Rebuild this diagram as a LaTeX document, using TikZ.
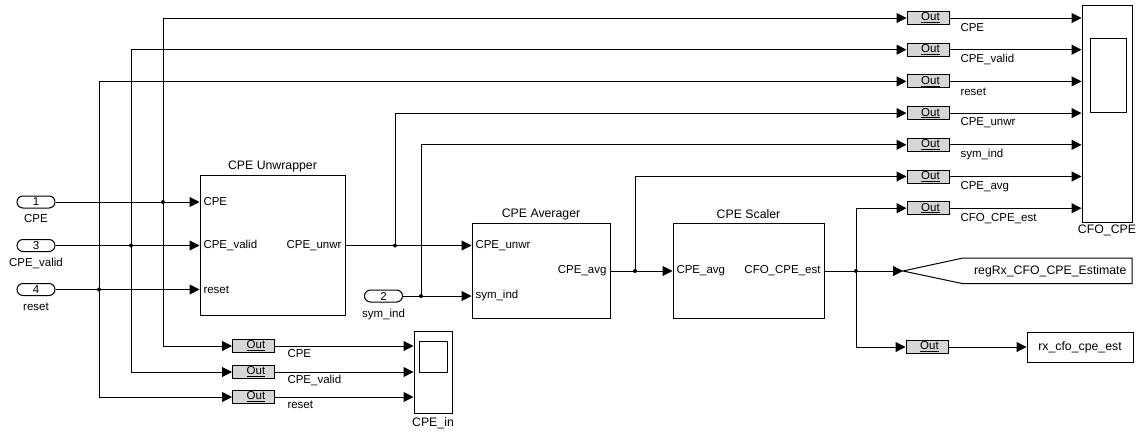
\documentclass[tikz,border=0pt]{standalone}
\usepackage{fontspec}
\setmainfont{Liberation Sans}
\usepackage{xcolor}
\usetikzlibrary{arrows.meta, positioning, shapes.geometric}
\definecolor{outgray}{HTML}{D6D6D6}
\newcommand{\outtxt}{\hspace*{5pt}\underline{Out}}

\begin{document}
\begin{tikzpicture}[
  x=1pt, y=-1pt, line width=1pt,
  block/.style={rectangle, draw, fill=white, inner sep=0pt},
  inport/.style={rectangle, rounded corners=6pt, draw, minimum width=38pt, minimum height=12pt,
                 inner sep=0pt, font=\fontsize{11.5}{13}\selectfont},
  outblk/.style={rectangle, draw, fill=outgray, minimum width=42pt, minimum height=13pt,
                 inner sep=0pt, font=\fontsize{11.5}{13}\selectfont},
  port/.style={inner sep=0pt, font=\fontsize{11.5}{13}\selectfont},
  title/.style={inner sep=0pt, font=\fontsize{12.3}{14}\selectfont},
  sig/.style={inner sep=0pt, anchor=west, font=\fontsize{11.5}{13}\selectfont},
  arrow/.style={-{Triangle[length=10pt, width=10pt]}},
  dot/.style={circle, fill, inner sep=0pt, minimum size=4pt}
]
  \useasboundingbox (0,0) rectangle (1147,434);

  % inports
  \node[inport] (in1) at (36,202) {1};
  \node[port] (in1lbl) at (36,219) {CPE};
  \node[inport] (in3) at (36,245.5) {3};
  \node[port] (in3lbl) at (36,263) {CPE\_valid};
  \node[inport] (in4) at (36,289.5) {4};
  \node[port] (in4lbl) at (36,307) {reset};
  \node[inport] (in2) at (383.5,296) {2};
  \node[port] (in2lbl) at (383.5,315) {sym\_ind};

  % subsystems
  \node[block, minimum width=145pt, minimum height=140pt] (unwr) at (272.5,245) {};
  \node[title] (unwrttl) at (272.5,166) {CPE Unwrapper};
  \node[port, anchor=west] (unwrp1) at (203,202) {CPE};
  \node[port, anchor=west] (unwrp2) at (203,245.5) {CPE\_valid};
  \node[port, anchor=west] (unwrp3) at (203,289.5) {reset};
  \node[port, anchor=east] (unwrpo) at (342,245.5) {CPE\_unwr};

  \node[block, minimum width=138pt, minimum height=95pt] (avg) at (541,270.5) {};
  \node[title] (avgttl) at (541,214) {CPE Averager};
  \node[port, anchor=west] (avgp1) at (475,245.5) {CPE\_unwr};
  \node[port, anchor=west] (avgp2) at (475,296) {sym\_ind};
  \node[port, anchor=east] (avgpo) at (607,271) {CPE\_avg};

  \node[block, minimum width=151pt, minimum height=95pt] (scaler) at (748.5,270.5) {};
  \node[title] (scalerttl) at (748.5,214) {CPE Scaler};
  \node[port, anchor=west] (scalerp1) at (676,271) {CPE\_avg};
  \node[port, anchor=east] (scalerpo) at (821,271) {CFO\_CPE\_est};

  % scopes
  \node[block, minimum width=50pt, minimum height=217pt] (cfocpe) at (1107,113.5) {};
  \node[block, minimum width=36pt, minimum height=74pt] (cfocpescr) at (1108,75) {};
  \node[title] (cfocpelbl) at (1107,230) {CFO\_CPE};
  \node[block, minimum width=38pt, minimum height=82pt] (cpein) at (433,372) {};
  \node[block, minimum width=28pt, minimum height=31pt] (cpeinscr) at (433,356.5) {};
  \node[title] (cpeinlbl) at (433,423) {CPE\_in};

  % goto tag and outport
  \coordinate (gototip) at (903,271);
  \draw (gototip) -- (963,258) -- (1132,258) -- (1132,283.5) -- (962,283.5) -- cycle;
  \node[title, anchor=east] (goto) at (1127,271) {regRx\_CFO\_CPE\_Estimate};
  \node[block, minimum width=106pt, minimum height=30pt] (rx) at (1080,347) {};
  \node[title] (rxlbl) at (1080,347) {rx\_cfo\_cpe\_est};

  % out blocks to CFO_CPE
  \node[outblk] (outcpe)   at (928,18)    {\outtxt};
  \node[outblk] (outvalid) at (928,49.7)  {\outtxt};
  \node[outblk] (outreset) at (928,81.4)  {\outtxt};
  \node[outblk] (outunwr)  at (928,113.1) {\outtxt};
  \node[outblk] (outsym)   at (928,144.8) {\outtxt};
  \node[outblk] (outavg)   at (928,176.5) {\outtxt};
  \node[outblk] (outest)   at (928,208.2) {\outtxt};
  \node[sig] (lcpe)   at (960,28)    {CPE};
  \node[sig] (lvalid) at (960,59.7)  {CPE\_valid};
  \node[sig] (lreset) at (960,91.4)  {reset};
  \node[sig] (lunwr)  at (960,123.1) {CPE\_unwr};
  \node[sig] (lsym)   at (960,154.8) {sym\_ind};
  \node[sig] (lavg)   at (960,186.5) {CPE\_avg};
  \node[sig] (lest)   at (960,218.2) {CFO\_CPE\_est};

  % out blocks to CPE_in and rx_cfo_cpe_est
  \node[outblk] (outcpeb)   at (253.5,346) {\outtxt};
  \node[outblk] (outvalidb) at (253.5,372) {\outtxt};
  \node[outblk] (outresetb) at (253.5,397) {\outtxt};
  \node[sig] (lcpeb)   at (287,354) {CPE};
  \node[sig] (lvalidb) at (287,380) {CPE\_valid};
  \node[sig] (lresetb) at (287,405) {reset};
  \node[outblk] (outrx) at (927,347) {\outtxt};

  % branch points
  \coordinate (jcpe)   at (163,202);
  \coordinate (jvalid) at (131,245.5);
  \coordinate (jreset) at (99,289.5);
  \coordinate (junwr)  at (395,245.5);
  \coordinate (jsym)   at (421,296);
  \coordinate (javg)   at (635,271);
  \coordinate (jest)   at (856,271);

  % signals
  \draw[arrow] (in1.east) -- (in1.east -| unwr.west);
  \draw[arrow] (in3.east) -- (in3.east -| unwr.west);
  \draw[arrow] (in4.east) -- (in4.east -| unwr.west);
  \draw[arrow] (jcpe) |- (outcpe.west);
  \draw[arrow] (jvalid) |- (outvalid.west);
  \draw[arrow] (jreset) |- (outreset.west);
  \draw[arrow] (jcpe) |- (outcpeb.west);
  \draw[arrow] (jvalid) |- (outvalidb.west);
  \draw[arrow] (jreset) |- (outresetb.west);

  \draw[arrow] (unwr.east |- junwr) -- (junwr -| avg.west);
  \draw[arrow] (junwr) |- (outunwr.west);
  \draw[arrow] (in2.east) -- (in2.east -| avg.west);
  \draw[arrow] (jsym) |- (outsym.west);
  \draw[arrow] (avg.east |- javg) -- (javg -| scaler.west);
  \draw[arrow] (javg) |- (outavg.west);
  \draw (scaler.east |- jest) -- (jest);
  \draw[arrow] (jest) -- (gototip);
  \draw[arrow] (jest) |- (outest.west);
  \draw[arrow] (jest) |- (outrx.west);
  \draw[arrow] (outrx.east) -- (rx.west);

  \draw[arrow] (outcpe.east)   -- (outcpe.east -| cfocpe.west);
  \draw[arrow] (outvalid.east) -- (outvalid.east -| cfocpe.west);
  \draw[arrow] (outreset.east) -- (outreset.east -| cfocpe.west);
  \draw[arrow] (outunwr.east)  -- (outunwr.east -| cfocpe.west);
  \draw[arrow] (outsym.east)   -- (outsym.east -| cfocpe.west);
  \draw[arrow] (outavg.east)   -- (outavg.east -| cfocpe.west);
  \draw[arrow] (outest.east)   -- (outest.east -| cfocpe.west);
  \draw[arrow] (outcpeb.east)   -- (outcpeb.east -| cpein.west);
  \draw[arrow] (outvalidb.east) -- (outvalidb.east -| cpein.west);
  \draw[arrow] (outresetb.east) -- (outresetb.east -| cpein.west);

  % junction dots
  \node[dot] (dcpe)   at (jcpe)   {};
  \node[dot] (dvalid) at (jvalid) {};
  \node[dot] (dreset) at (jreset) {};
  \node[dot] (dunwr)  at (junwr)  {};
  \node[dot] (dsym)   at (jsym)   {};
  \node[dot] (davg)   at (javg)   {};
  \node[dot] (dest)   at (jest)   {};
\end{tikzpicture}
\end{document}
